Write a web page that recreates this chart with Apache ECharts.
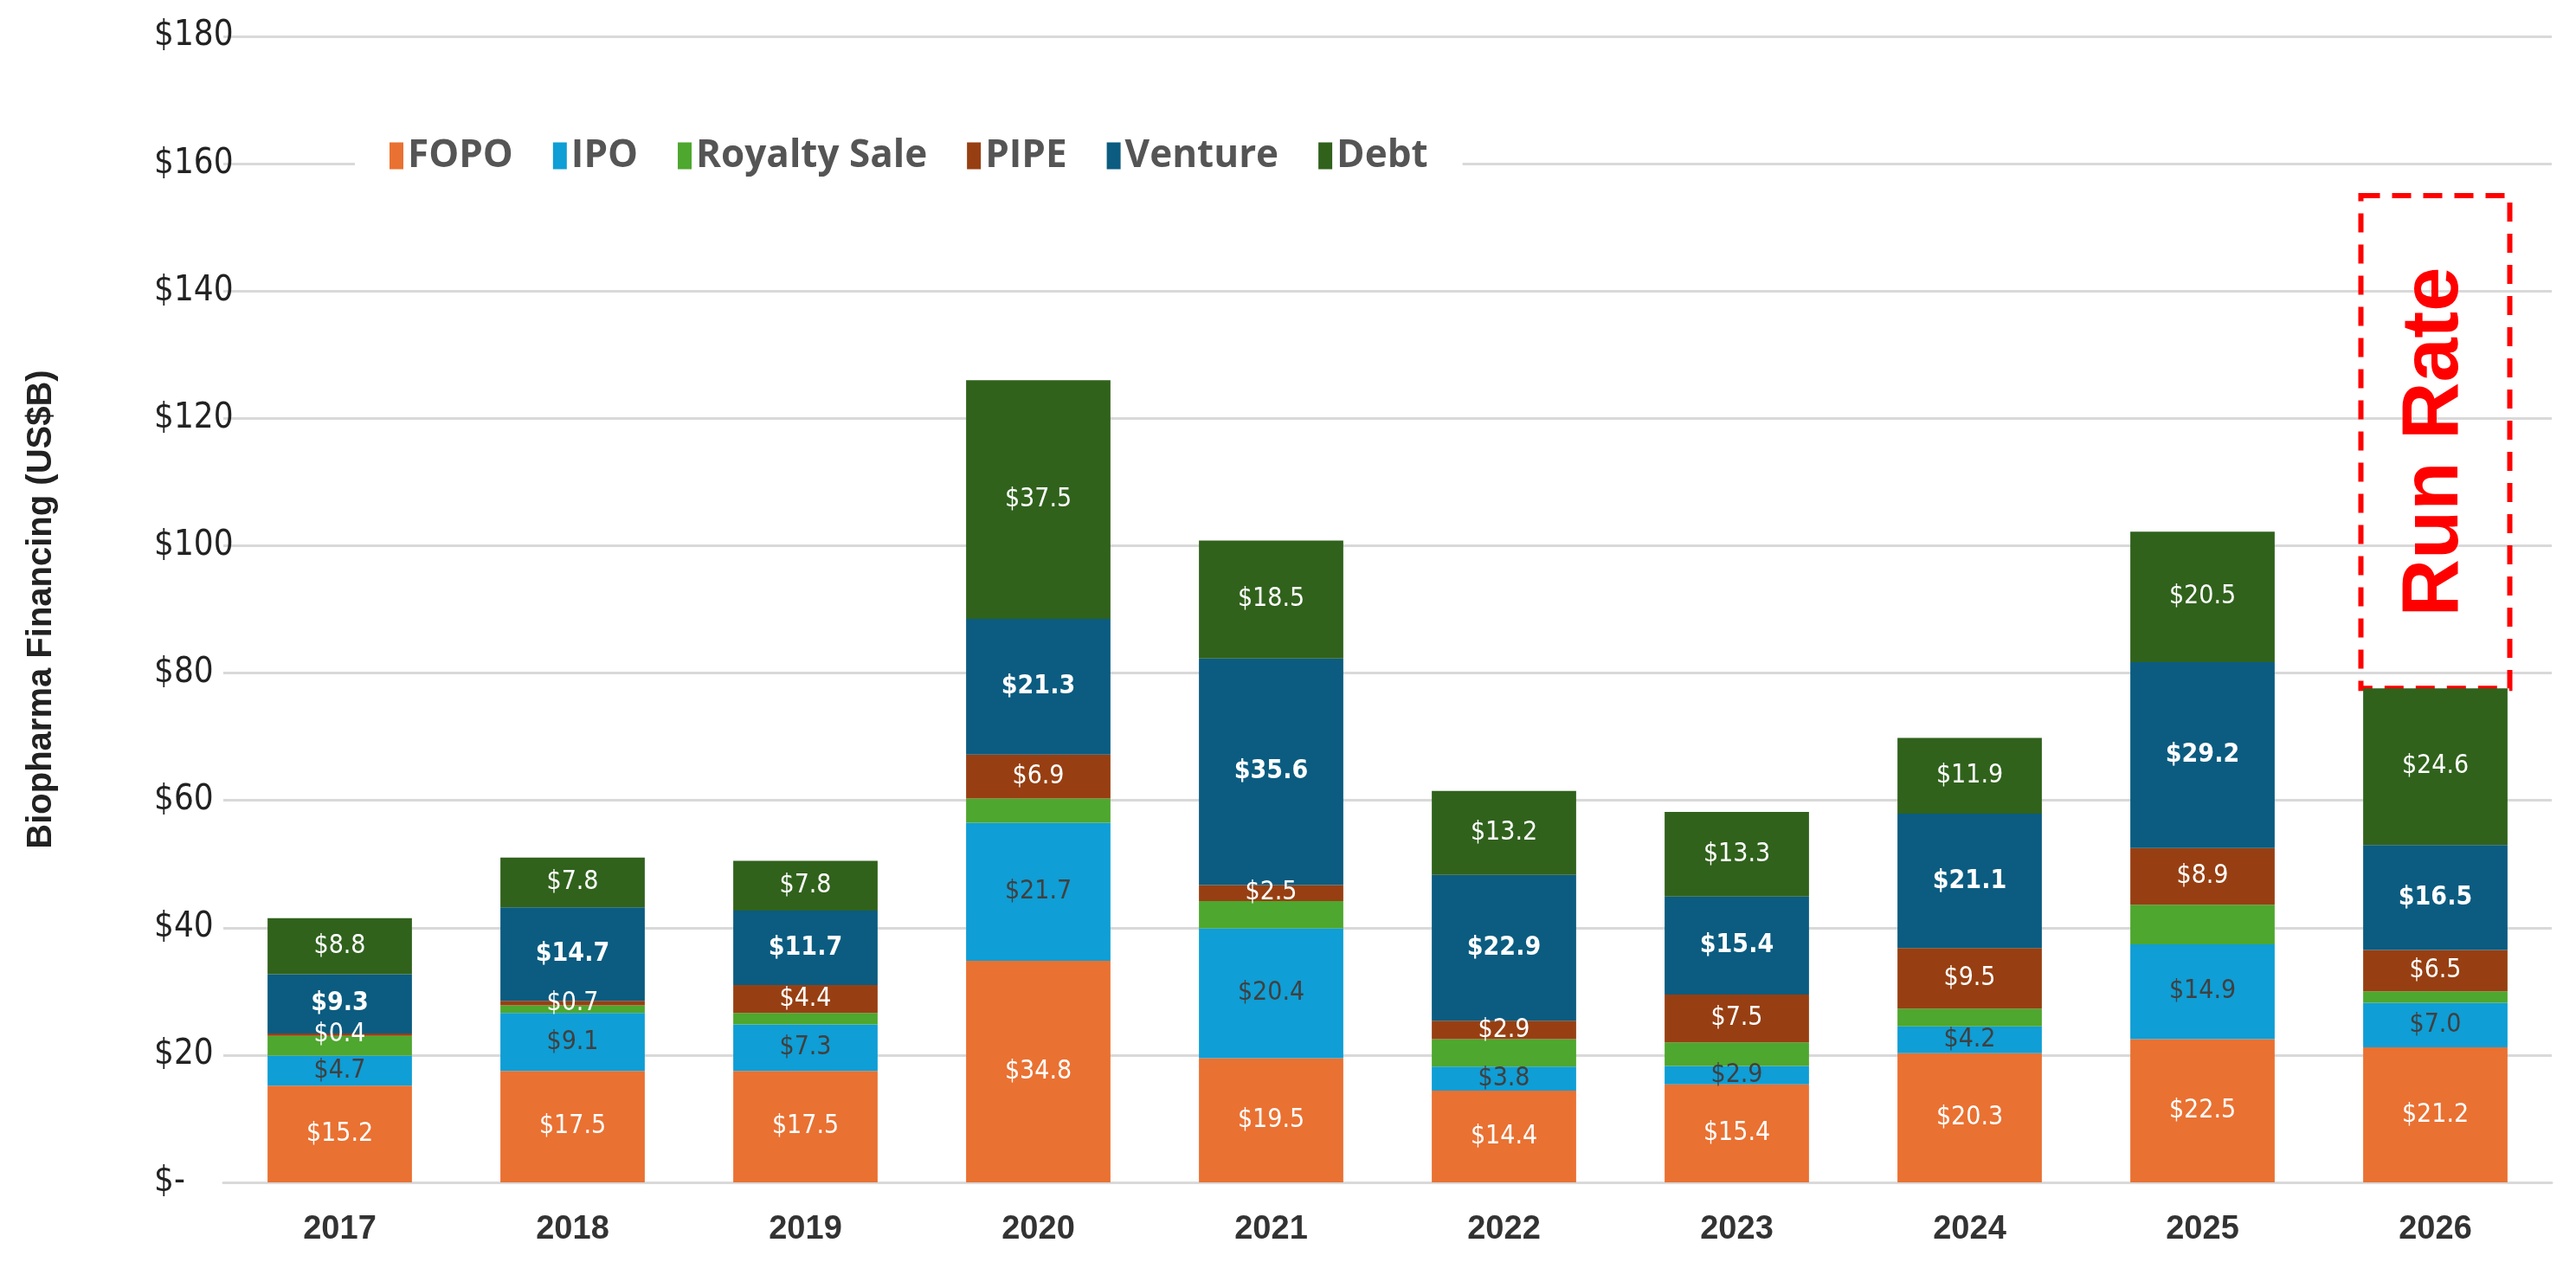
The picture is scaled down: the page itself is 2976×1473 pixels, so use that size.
<!DOCTYPE html>
<html lang="en">
<head>
<meta charset="UTF-8">
<script src="https://cdn.jsdelivr.net/npm/echarts@6/dist/echarts.min.js"></script>
<style>html,body{margin:0;background:#fff}</style>
</head>
<body>
<div id="chart" style="width:2976px;height:1473px;"></div>
<script>
var years = ['2017','2018','2019','2020','2021','2022','2023','2024','2025','2026'];
var fopo    = [15.2, 17.5, 17.5, 34.8, 19.5, 14.4, 15.4, 20.3, 22.5, 21.2];
var ipo     = [4.7, 9.1, 7.3, 21.7, 20.4, 3.8, 2.9, 4.2, 14.9, 7.0];
var royalty = [3.1, 1.2, 1.8, 3.8, 4.3, 4.3, 3.7, 2.8, 6.2, 1.8];
var pipe    = [0.4, 0.7, 4.4, 6.9, 2.5, 2.9, 7.5, 9.5, 8.9, 6.5];
var venture = [9.3, 14.7, 11.7, 21.3, 35.6, 22.9, 15.4, 21.1, 29.2, 16.5];
var debt    = [8.8, 7.8, 7.8, 37.5, 18.5, 13.2, 13.3, 11.9, 20.5, 24.6];
var runRateTop = 155;

var font = '"Liberation Sans Narrow", "DejaVu Sans Condensed", "Liberation Sans", sans-serif';
function mk(name, data, color, labelColor, bold, showLabel) {
  return {
    name: name, type: 'bar', stack: 'total', data: data, barWidth: '62%',
    itemStyle: { color: color },
    label: {
      show: showLabel, color: labelColor, fontFamily: font, fontSize: 30,
      fontWeight: bold ? 'bold' : 'normal',
      formatter: function (p) { return '$' + p.value.toFixed(1); }
    }
  };
}
var chart = echarts.init(document.getElementById('chart'));
chart.setOption({
  animation: false,
  grid: { left: 258, right: 28, top: 42, bottom: 107 },
  legend: {
    top: 150, left: 410, backgroundColor: '#fff', padding: [8, 40],
    itemWidth: 16, itemHeight: 31, itemGap: 46,
    textStyle: { fontFamily: '"Open Sans", "Liberation Sans", sans-serif', fontSize: 44, fontWeight: 'bold', color: '#555' },
    icon: 'rect'
  },
  xAxis: {
    type: 'category', data: years,
    axisLine: { lineStyle: { color: '#d9d9d9', width: 3 } }, axisTick: { show: false },
    axisLabel: { fontFamily: '"Liberation Sans", sans-serif', fontWeight: 'bold', fontSize: 38, color: '#333', margin: 36 }
  },
  yAxis: {
    type: 'value', min: 0, max: 180, interval: 20,
    name: 'Biopharma Financing (US$B)', nameLocation: 'middle', nameGap: 190,
    nameTextStyle: { fontFamily: '"Liberation Sans", sans-serif', fontWeight: 'bold', fontSize: 40, color: '#222' },
    axisLine: { show: false }, axisTick: { show: false },
    splitLine: { lineStyle: { color: '#d9d9d9', width: 3 } },
    axisLabel: {
      fontFamily: font, fontSize: 40, color: '#222', margin: 80, align: 'left',
      formatter: function (v) { return v === 0 ? '$-' : '$' + v; }
    }
  },
  series: [
    mk('FOPO', fopo, '#e97132', '#fff', false, true),
    mk('IPO', ipo, '#0f9ed5', '#404040', false, true),
    mk('Royalty Sale', royalty, '#4ea72e', '#fff', false, false),
    mk('PIPE', pipe, '#973f12', '#fff', false, true),
    mk('Venture', venture, '#0b5c80', '#fff', true, true),
    mk('Debt', debt, '#30621c', '#fff', false, true)
  ]
});
// the 2017 and 2018 PIPE labels sit low on the bar like the original
var last = years.length - 1;
var total = fopo[last] + ipo[last] + royalty[last] + pipe[last] + venture[last] + debt[last];
var p0 = chart.convertToPixel({ xAxisIndex: 0, yAxisIndex: 0 }, [years[last], total]);
var p1 = chart.convertToPixel({ xAxisIndex: 0, yAxisIndex: 0 }, [years[last], runRateTop]);
var bw = 172;
chart.setOption({
  graphic: [
    { type: 'rect', shape: { x: p0[0] - bw / 2, y: p1[1], width: bw, height: p0[1] - p1[1] },
      style: { fill: 'none', stroke: '#ff0000', lineWidth: 6, lineDash: [22, 14] } },
    { type: 'text', x: p0[0], y: (p0[1] + p1[1]) / 2, rotation: Math.PI / 2,
      style: { text: 'Run Rate', fill: '#ff0000', font: 'bold 92px "Liberation Sans", sans-serif', align: 'center', verticalAlign: 'middle' } }
  ]
});
</script>
</body>
</html>
